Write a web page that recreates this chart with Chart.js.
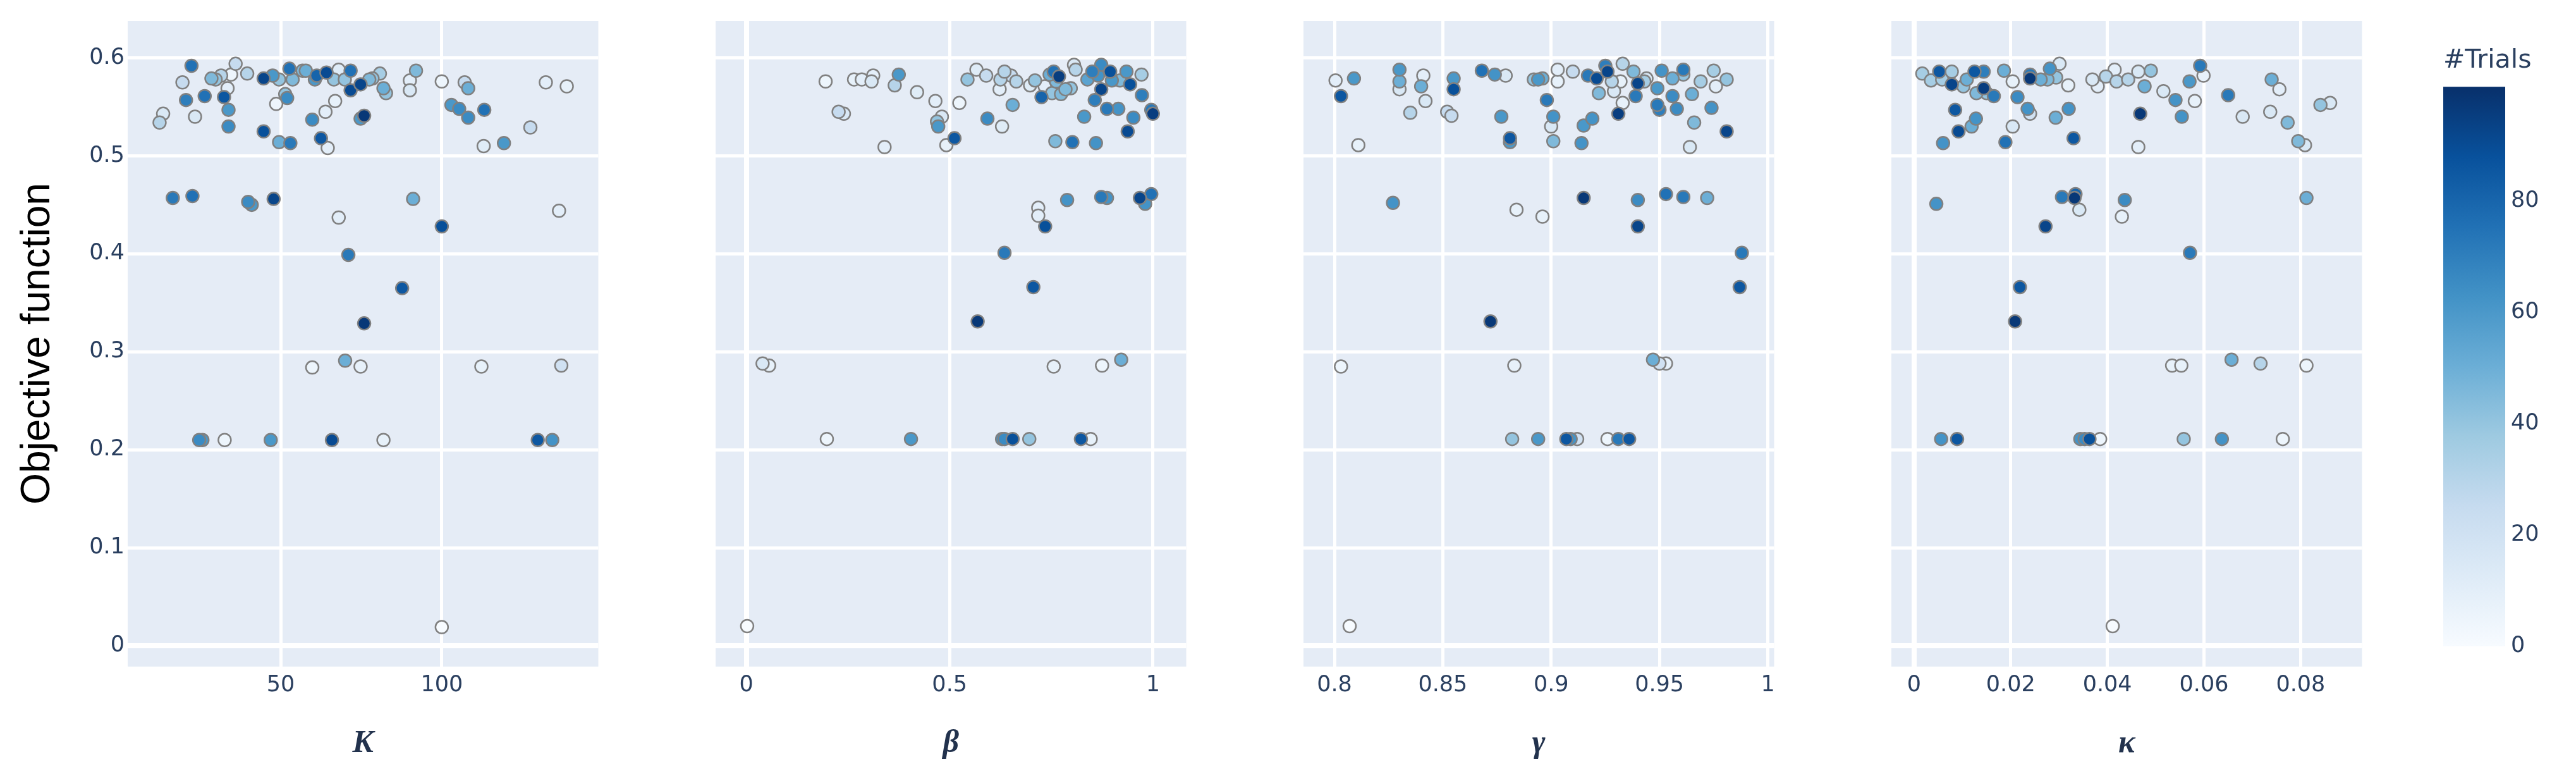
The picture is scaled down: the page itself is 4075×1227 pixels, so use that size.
<!DOCTYPE html>
<html>
<head>
<meta charset="utf-8">
<script src="https://cdn.jsdelivr.net/npm/chart.js@4.4.1/dist/chart.umd.min.js"></script>
<style>
    html, body { margin: 0; padding: 0; background: #fff; }
    #wrap { position: relative; width: 4075px; height: 1227px; overflow: hidden; }
    #wrap canvas { position: absolute; top: 0; }
</style>
</head>
<body>
<div id="wrap"></div>
<script>
// ---- values ----
const objTicks = [0, 0.1, 0.2, 0.3, 0.4, 0.5, 0.6];
const kTicks = [50, 100];
const betaTicks = [0, 0.5, 1];
const gammaTicks = [0.8, 0.85, 0.9, 0.95, 1];
const kappaTicks = [0, 0.02, 0.04, 0.06, 0.08];
const trialTicks = [0, 20, 40, 60, 80];

// K panel
const kX = [
    12.4, 13.5, 19.5, 20.6, 22.3, 23.4, 26.4, 28.5, 29.8, 31.5,
    32.4, 33.5, 33.8, 33.8, 34.6, 36.0, 39.6, 44.7, 44.7, 47.5,
    48.6, 49.5, 49.5, 51.4, 52.0, 52.7, 53.0, 53.7, 56.8, 57.8,
    59.8, 60.6, 61.2, 62.5, 63.9, 64.2, 64.6, 66.5, 66.9, 68.0,
    69.9, 71.7, 71.7, 74.8, 74.8, 75.9, 77.5, 78.5, 80.8, 81.9,
    82.7, 90.1, 90.1, 92.0, 100, 103.0, 105.4, 107.1, 108.2, 108.2,
    113.2, 113.0, 119.3, 127.5, 132.3, 138.8,
    16.5, 22.6, 39.9, 41.0, 47.8, 68.0, 100, 91.1, 136.4,
    71.0, 87.7, 75.9,
    59.8, 70.0, 74.8, 112.3, 137.1,
    24.7, 25.7, 32.6, 46.9, 65.9, 81.9, 129.8, 134.3,
    100
];
const kY = [
    0.534, 0.543, 0.575, 0.557, 0.592, 0.540, 0.561, 0.579, 0.578, 0.582,
    0.560, 0.569, 0.547, 0.530, 0.583, 0.594, 0.584, 0.579, 0.525, 0.582,
    0.553, 0.578, 0.514, 0.563, 0.559, 0.589, 0.513, 0.578, 0.587, 0.587,
    0.537, 0.578, 0.582, 0.518, 0.545, 0.585, 0.508, 0.578, 0.556, 0.588,
    0.578, 0.587, 0.567, 0.573, 0.538, 0.541, 0.578, 0.579, 0.584, 0.569,
    0.564, 0.577, 0.567, 0.587, 0.576, 0.552, 0.548, 0.575, 0.569, 0.539,
    0.547, 0.510, 0.513, 0.529, 0.575, 0.571,
    0.457, 0.459, 0.453, 0.450, 0.456, 0.437, 0.428, 0.456, 0.444,
    0.399, 0.365, 0.329,
    0.284, 0.291, 0.285, 0.285, 0.286,
    0.210, 0.210, 0.210, 0.210, 0.210, 0.210, 0.210, 0.210,
    0.019
];
const kT = [
    30, 15, 25, 70, 75, 15, 75, 45, 40, 30,
    85, 10, 60, 65, 5, 25, 30, 92, 88, 60,
    5, 40, 50, 40, 65, 75, 72, 45, 45, 50,
    65, 60, 80, 85, 10, 90, 10, 40, 8, 12,
    40, 75, 90, 92, 60, 97, 45, 40, 35, 50,
    40, 10, 15, 45, 5, 60, 65, 25, 50, 65,
    75, 12, 60, 25, 10, 8,
    72, 75, 65, 60, 92, 10, 88, 50, 10,
    72, 85, 97,
    5, 50, 8, 8, 20,
    65, 60, 5, 60, 90, 8, 85, 62,
    0
];

// beta panel
const bX = [
    0.195, 0.227, 0.240, 0.265, 0.284, 0.308, 0.312, 0.340, 0.365, 0.375,
    0.420, 0.465, 0.469, 0.472, 0.481, 0.492, 0.512, 0.524, 0.544, 0.566,
    0.590, 0.593, 0.623, 0.625, 0.629, 0.635, 0.651, 0.655, 0.664, 0.698,
    0.710, 0.726, 0.734, 0.746, 0.752, 0.756, 0.762, 0.769, 0.774, 0.785,
    0.798, 0.806, 0.810, 0.831, 0.839, 0.851, 0.857, 0.865, 0.873, 0.873,
    0.887, 0.895, 0.899, 0.915, 0.919, 0.935, 0.938, 0.944, 0.952, 0.972,
    0.973, 0.996, 1.0, 0.760, 0.802, 0.860,
    0.718, 0.718, 0.735, 0.789, 0.873, 0.887, 0.968, 0.981, 0.996,
    0.635, 0.706, 0.569,
    0.040, 0.056, 0.756, 0.875, 0.922,
    0.198, 0.405, 0.629, 0.635, 0.655, 0.696, 0.823, 0.847,
    0.002
];
const bY = [
    0.576, 0.545, 0.543, 0.578, 0.578, 0.576, 0.582, 0.509, 0.572, 0.583,
    0.565, 0.556, 0.535, 0.530, 0.540, 0.511, 0.518, 0.554, 0.578, 0.588,
    0.582, 0.538, 0.568, 0.578, 0.530, 0.586, 0.582, 0.552, 0.576, 0.572,
    0.577, 0.560, 0.571, 0.583, 0.564, 0.586, 0.576, 0.581, 0.563, 0.568,
    0.569, 0.593, 0.588, 0.540, 0.578, 0.586, 0.557, 0.582, 0.568, 0.593,
    0.548, 0.586, 0.577, 0.548, 0.577, 0.586, 0.525, 0.573, 0.539, 0.583,
    0.562, 0.547, 0.543, 0.515, 0.514, 0.513,
    0.447, 0.439, 0.428, 0.455, 0.458, 0.457, 0.457, 0.451, 0.461,
    0.401, 0.366, 0.331,
    0.288, 0.286, 0.285, 0.286, 0.292,
    0.211, 0.211, 0.211, 0.211, 0.211, 0.211, 0.211, 0.211,
    0.020
];
const bT = [
    5, 25, 15, 8, 10, 15, 10, 10, 30, 60,
    12, 10, 40, 60, 15, 8, 85, 5, 40, 12,
    25, 65, 10, 30, 12, 30, 25, 50, 30, 12,
    40, 80, 10, 50, 40, 75, 45, 95, 45, 45,
    40, 15, 30, 60, 55, 70, 70, 62, 92, 65,
    72, 88, 60, 62, 45, 60, 90, 88, 65, 35,
    70, 72, 95, 45, 75, 62,
    10, 10, 88, 62, 72, 62, 92, 62, 75,
    72, 85, 97,
    15, 8, 8, 5, 50,
    5, 60, 62, 65, 88, 40, 85, 8,
    0
];

// gamma panel
const gX = [
    0.8005, 0.803, 0.809, 0.811, 0.830, 0.830, 0.830, 0.835, 0.840, 0.841,
    0.842, 0.852, 0.854, 0.855, 0.855, 0.868, 0.874, 0.879, 0.877, 0.881,
    0.881, 0.892, 0.894, 0.896, 0.898, 0.901, 0.900, 0.901, 0.903, 0.903,
    0.910, 0.914, 0.915, 0.919, 0.917, 0.921, 0.922, 0.925, 0.926, 0.928,
    0.929, 0.931, 0.932, 0.933, 0.933, 0.938, 0.939, 0.940, 0.943, 0.944,
    0.949, 0.949, 0.950, 0.951, 0.956, 0.956, 0.958, 0.961, 0.961, 0.965,
    0.964, 0.966, 0.969, 0.974, 0.975, 0.976, 0.981, 0.981,
    0.827, 0.884, 0.896, 0.915, 0.940, 0.940, 0.953, 0.961, 0.972,
    0.988, 0.987, 0.872,
    0.803, 0.883, 0.947, 0.950, 0.953,
    0.882, 0.894, 0.907, 0.909, 0.912, 0.926, 0.931, 0.936,
    0.807
];
const gY = [
    0.577, 0.561, 0.579, 0.511, 0.588, 0.576, 0.568, 0.544, 0.571, 0.582,
    0.556, 0.545, 0.541, 0.579, 0.568, 0.587, 0.583, 0.582, 0.540, 0.518,
    0.514, 0.578, 0.578, 0.579, 0.557, 0.540, 0.530, 0.515, 0.588, 0.576,
    0.586, 0.513, 0.531, 0.538, 0.582, 0.579, 0.564, 0.592, 0.586, 0.576,
    0.566, 0.543, 0.576, 0.594, 0.554, 0.586, 0.561, 0.574, 0.576, 0.579,
    0.569, 0.552, 0.547, 0.587, 0.579, 0.561, 0.548, 0.588, 0.583, 0.563,
    0.509, 0.534, 0.576, 0.549, 0.587, 0.571, 0.578, 0.525,
    0.452, 0.445, 0.438, 0.457, 0.455, 0.428, 0.461, 0.458, 0.457,
    0.401, 0.366, 0.331,
    0.285, 0.286, 0.292, 0.288, 0.288,
    0.211, 0.211, 0.211, 0.211, 0.211, 0.211, 0.211, 0.211,
    0.020
];
const gT = [
    10, 85, 60, 8, 60, 50, 15, 30, 50, 10,
    15, 25, 25, 60, 88, 75, 62, 15, 60, 85,
    60, 40, 60, 50, 72, 62, 15, 45, 10, 8,
    25, 62, 60, 62, 72, 90, 45, 70, 92, 30,
    15, 95, 8, 30, 8, 45, 72, 92, 35, 15,
    60, 72, 70, 62, 50, 65, 65, 72, 40, 50,
    15, 45, 35, 62, 35, 10, 40, 92,
    62, 8, 8, 97, 65, 92, 75, 72, 50,
    72, 85, 97,
    5, 8, 50, 20, 8,
    40, 60, 85, 62, 20, 5, 72, 85,
    0
];

// kappa panel
const cX = [
    0.0017, 0.0035, 0.0052, 0.0058, 0.0078, 0.0078, 0.0085, 0.0092, 0.0060, 0.0102,
    0.0109, 0.0119, 0.0125, 0.0128, 0.0129, 0.0144, 0.0144, 0.0150, 0.0165, 0.0186,
    0.0189, 0.0204, 0.0204, 0.0214, 0.0235, 0.0240, 0.0240, 0.0240, 0.0262, 0.0276,
    0.0281, 0.0293, 0.0294, 0.0301, 0.0319, 0.0320, 0.0330, 0.0369, 0.0380, 0.0397,
    0.0415, 0.0419, 0.0443, 0.0464, 0.0468, 0.0477, 0.0490, 0.0464, 0.0516, 0.0541,
    0.0554, 0.0570, 0.0581, 0.0592, 0.0599, 0.0650, 0.0680, 0.0737, 0.0740, 0.0756,
    0.0773, 0.0795, 0.0809, 0.0841, 0.0861,
    0.0046, 0.0306, 0.0334, 0.0332, 0.0342, 0.0436, 0.0430, 0.0272, 0.0812,
    0.0571, 0.0219, 0.0209,
    0.0534, 0.0553, 0.0657, 0.0717, 0.0812,
    0.0056, 0.0089, 0.0344, 0.0353, 0.0363, 0.0385, 0.0558, 0.0637, 0.0763,
    0.0411
];
const cY = [
    0.584, 0.577, 0.586, 0.578, 0.586, 0.573, 0.547, 0.525, 0.513, 0.571,
    0.578, 0.530, 0.586, 0.538, 0.564, 0.569, 0.586, 0.564, 0.561, 0.587,
    0.514, 0.576, 0.530, 0.560, 0.548, 0.543, 0.583, 0.579, 0.578, 0.578,
    0.589, 0.539, 0.580, 0.594, 0.572, 0.548, 0.518, 0.578, 0.571, 0.581,
    0.588, 0.576, 0.578, 0.586, 0.543, 0.571, 0.587, 0.509, 0.566, 0.557,
    0.540, 0.576, 0.556, 0.592, 0.582, 0.562, 0.540, 0.545, 0.578, 0.568,
    0.534, 0.515, 0.511, 0.552, 0.554,
    0.451, 0.458, 0.461, 0.457, 0.445, 0.455, 0.438, 0.428, 0.457,
    0.401, 0.366, 0.331,
    0.286, 0.286, 0.292, 0.288, 0.286,
    0.211, 0.211, 0.211, 0.211, 0.211, 0.211, 0.211, 0.211, 0.211,
    0.020
];
const cT = [
    35, 35, 85, 35, 35, 92, 85, 90, 62, 40,
    50, 50, 85, 62, 45, 95, 70, 40, 72, 50,
    75, 8, 15, 65, 62, 20, 72, 97, 50, 45,
    62, 50, 40, 15, 8, 62, 85, 15, 10, 30,
    10, 30, 30, 15, 97, 50, 40, 10, 15, 62,
    62, 60, 8, 72, 8, 72, 15, 15, 50, 10,
    45, 45, 15, 40, 15,
    62, 72, 80, 97, 15, 65, 8, 92, 50,
    72, 85, 97,
    8, 8, 50, 30, 5,
    62, 85, 62, 65, 88, 5, 40, 62, 5,
    0
];

// ---- styling / layout ----
const BLUES = [
    [0, [247, 251, 255]], [0.125, [222, 235, 247]], [0.25, [198, 219, 239]],
    [0.375, [158, 202, 225]], [0.5, [107, 174, 214]], [0.625, [66, 146, 198]],
    [0.75, [33, 113, 181]], [0.875, [8, 81, 156]], [1, [8, 48, 107]],
];
const TRIAL_MAX = 100;
const H = 1227;
const PLOT_TOP = 33;
const PLOT_BOTTOM = 1054;
const PLOT_W = 749;
const Y_MIN = -0.0213;
const Y_MAX = 0.6378;
const TICK_COLOR = '#2a3f5f';
const TICK_FONT = { family: 'DejaVu Sans', size: 35 };
const wrap = document.getElementById('wrap');

function trialColor(t) {
    const f = Math.max(0, Math.min(1, t / TRIAL_MAX));
    for (let i = 1; i < BLUES.length; i++) {
        if (f <= BLUES[i][0]) {
            const [f0, c0] = BLUES[i - 1];
            const [f1, c1] = BLUES[i];
            const u = (f - f0) / (f1 - f0);
            const c = c0.map((v, j) => Math.round(v + (c1[j] - v) * u));
            return `rgb(${c[0]},${c[1]},${c[2]})`;
        }
    }
    return 'rgb(8,48,107)';
}

function addCanvas(left, width) {
    const c = document.createElement('canvas');
    c.width = width;
    c.height = H;
    c.style.left = left + 'px';
    c.style.width = width + 'px';
    c.style.height = H + 'px';
    wrap.appendChild(c);
    return c;
}

const plotBg = {
    id: 'plotBg',
    beforeDraw(chart) {
        const { ctx, chartArea: a } = chart;
        ctx.save();
        ctx.fillStyle = '#E5ECF6';
        ctx.fillRect(a.left, a.top, a.right - a.left, a.bottom - a.top);
        ctx.restore();
    },
};

const gridWidth = (ctx) => (ctx.tick && ctx.tick.value === 0 ? 8 : 5);

function makePanel(p) {
    const padL = p.showY ? p.left : 40;
    const padR = 8;
    const canvas = addCanvas(p.left - padL, padL + PLOT_W + padR);

    // later trials drawn on top, like the original
    const order = p.xs.map((_, i) => i).sort((a, b) => p.ts[a] - p.ts[b]);

    new Chart(canvas.getContext('2d'), {
        type: 'scatter',
        data: {
            datasets: [{
                data: order.map(i => ({ x: p.xs[i], y: p.ys[i] })),
                pointBackgroundColor: order.map(i => trialColor(p.ts[i])),
                pointBorderColor: 'rgb(128,128,128)',
                pointBorderWidth: 2.5,
                pointRadius: 10,
            }],
        },
        options: {
            responsive: false,
            animation: false,
            devicePixelRatio: 1,
            events: [],
            layout: { padding: { top: PLOT_TOP, right: padR, bottom: 0, left: 0 } },
            plugins: { legend: { display: false }, tooltip: { enabled: false } },
            scales: {
                x: {
                    type: 'linear',
                    min: p.xMin,
                    max: p.xMax,
                    afterBuildTicks: (s) => { s.ticks = p.xTicks.map(v => ({ value: v })); },
                    afterFit: (s) => { s.height = H - PLOT_BOTTOM; s.paddingLeft = 0; s.paddingRight = 0; },
                    grid: { color: '#ffffff', lineWidth: gridWidth, drawTicks: false },
                    border: { display: false },
                    ticks: {
                        padding: 9,
                        autoSkip: false,
                        maxRotation: 0,
                        color: TICK_COLOR,
                        font: TICK_FONT,
                        callback: (v) => String(v),
                    },
                    title: {
                        display: true,
                        text: p.title,
                        color: '#22324d',
                        font: { family: 'Liberation Serif', size: 50, weight: 'bold', style: 'italic' },
                        padding: { top: 0, bottom: 21 },
                    },
                },
                y: {
                    type: 'linear',
                    min: Y_MIN,
                    max: Y_MAX,
                    afterBuildTicks: (s) => { s.ticks = objTicks.map(v => ({ value: v })); },
                    afterFit: (s) => { s.width = padL; s.paddingTop = 0; s.paddingBottom = 0; },
                    grid: { color: '#ffffff', lineWidth: gridWidth, drawTicks: false },
                    border: { display: false },
                    ticks: {
                        display: p.showY,
                        padding: 5,
                        color: TICK_COLOR,
                        font: TICK_FONT,
                        callback: (v) => String(v),
                    },
                    title: {
                        display: p.showY,
                        text: 'Objective function',
                        color: '#000000',
                        font: { family: 'Liberation Sans', size: 64 },
                        padding: { top: 22, bottom: 0 },
                    },
                },
            },
        },
        plugins: [plotBg],
    });
}

makePanel({ left: 202, xs: kX, ys: kY, ts: kT, xMin: 2.5, xMax: 148.6, xTicks: kTicks, title: 'K', showY: true });
makePanel({ left: 1132, xs: bX, ys: bY, ts: bT, xMin: -0.0756, xMax: 1.082, xTicks: betaTicks, title: 'β', showY: false });
makePanel({ left: 2062, xs: gX, ys: gY, ts: gT, xMin: 0.7857, xMax: 1.0029, xTicks: gammaTicks, title: 'γ', showY: false });
makePanel({ left: 2992, xs: cX, ys: cY, ts: cT, xMin: -0.0047, xMax: 0.0927, xTicks: kappaTicks, title: 'κ', showY: false });

// colour bar
const CB_LEFT = 3865, CB_W = 98, CB_AXIS = 110, CB_BOTTOM = 1022;
const colorBarFill = {
    id: 'colorBarFill',
    beforeDatasetsDraw(chart) {
        const { ctx, chartArea: a } = chart;
        const g = ctx.createLinearGradient(0, a.bottom, 0, a.top);
        BLUES.forEach(([f, c]) => g.addColorStop(f, `rgb(${c[0]},${c[1]},${c[2]})`));
        ctx.save();
        ctx.fillStyle = g;
        ctx.fillRect(a.left, a.top, a.right - a.left, a.bottom - a.top);
        ctx.restore();
    },
};
new Chart(addCanvas(CB_LEFT, CB_W + CB_AXIS).getContext('2d'), {
    type: 'scatter',
    data: { datasets: [{ data: [] }] },
    options: {
        responsive: false,
        animation: false,
        devicePixelRatio: 1,
        events: [],
        layout: { padding: { top: 0, right: 0, bottom: H - CB_BOTTOM, left: 0 } },
        plugins: {
            legend: { display: false },
            tooltip: { enabled: false },
            title: {
                display: true,
                text: '#Trials',
                align: 'start',
                color: TICK_COLOR,
                font: { family: 'DejaVu Sans', size: 41, weight: 'normal' },
                padding: { top: 72, bottom: 16 },
            },
        },
        scales: {
            x: { display: false, min: 0, max: 1 },
            y: {
                position: 'right',
                min: 0,
                max: TRIAL_MAX + 0.5,
                afterBuildTicks: (s) => { s.ticks = trialTicks.map(v => ({ value: v })); },
                afterFit: (s) => { s.width = CB_AXIS; s.paddingTop = 0; s.paddingBottom = 0; },
                grid: { display: false, drawTicks: false },
                border: { display: false },
                ticks: {
                    padding: 9,
                    color: TICK_COLOR,
                    font: TICK_FONT,
                    callback: (v) => String(v),
                },
            },
        },
    },
    plugins: [colorBarFill],
});
</script>
</body>
</html>
